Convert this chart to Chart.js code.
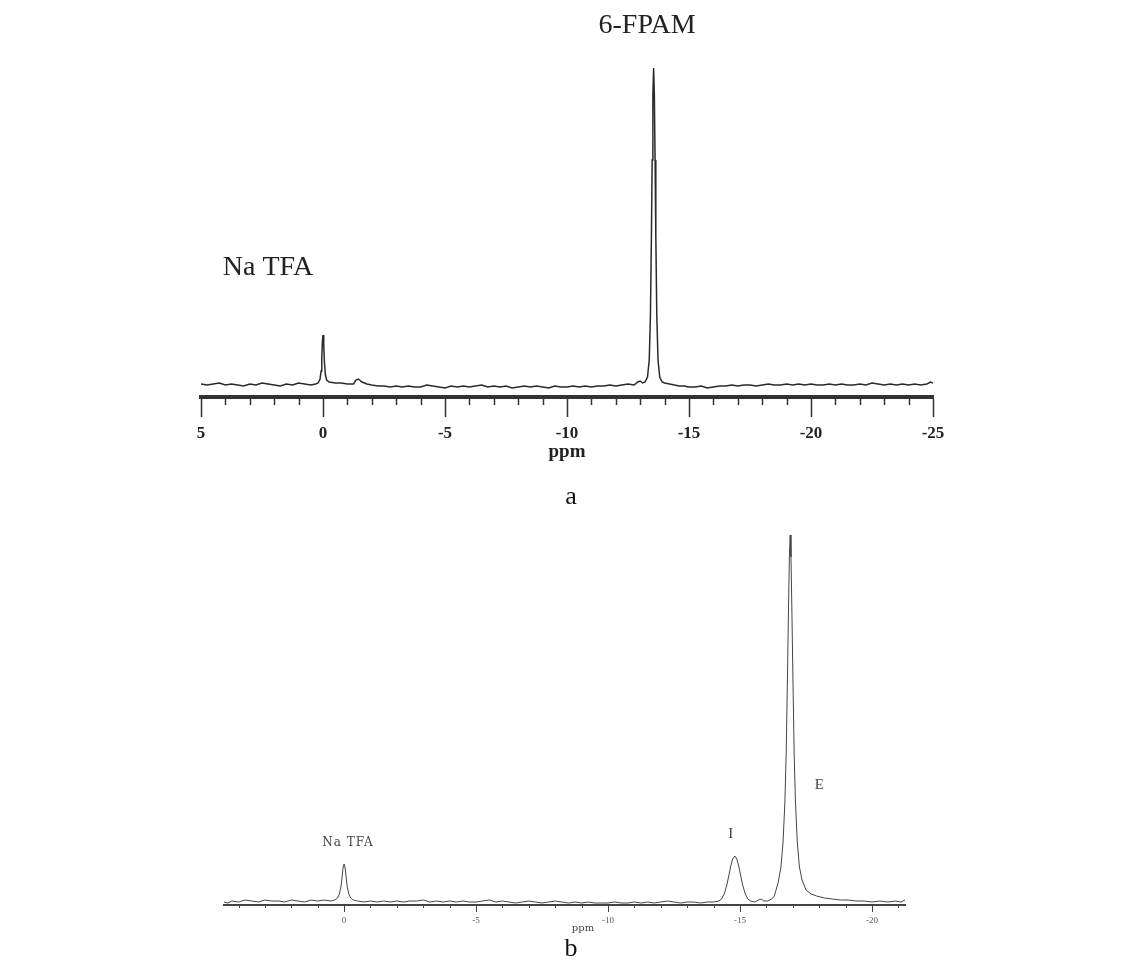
<!DOCTYPE html>
<html>
<head>
<meta charset="utf-8">
<script src="https://cdn.jsdelivr.net/npm/chart.js@4.4.1/dist/chart.umd.min.js"></script>
<style>
  body { margin: 0; background: #fff; width: 1143px; height: 967px; position: relative; overflow: hidden; }
  canvas { position: absolute; left: 0; }
  #chartA { top: 0; }
  #chartB { top: 500px; }
  .cap { position: absolute; width: 40px; text-align: center; font-family: "Liberation Serif", serif; font-size: 26px; color: #111; }
</style>
</head>
<body>
<canvas id="chartA" width="1143" height="470"></canvas>
<canvas id="chartB" width="1143" height="450"></canvas>
<div class="cap" style="left:551px; top:481px;">a</div>
<div class="cap" style="left:551px; top:933px;">b</div>
<script>
// spectrum a: [ppm, intensity]
const specA = [
  [5,1],[4.75,0],[4.5,1],[4.25,2],[4,0],[3.75,1],[3.5,0],[3.25,-1],[3,1],[2.75,0],
  [2.5,2],[2.25,1],[2,0],[1.75,-1],[1.5,1],[1.25,0],[1,2],[0.75,1],[0.5,0],[0.3,1],
  [0.2,2],[0.12,6],[0.08,14],[0.05,28],[0.02,45],[0,50],[-0.03,40],[-0.06,22],[-0.1,10],[-0.15,5],
  [-0.25,3],[-0.5,2],[-0.75,2],[-1,1],[-1.25,1],[-1.35,5],[-1.45,6],[-1.6,3],[-1.8,1],[-2,0],
  [-2.25,-1],[-2.5,-1],[-2.75,-2],[-3,-1],[-3.25,-2],[-3.5,-1],[-3.75,-2],[-4,-2],[-4.25,0],[-4.5,-1],
  [-4.75,-2],[-5,-3],[-5.25,-1],[-5.5,-2],[-5.75,-1],[-6,-2],[-6.25,-1],[-6.5,0],[-6.75,-2],[-7,-1],
  [-7.25,-2],[-7.5,-1],[-7.75,-3],[-8,-2],[-8.25,-1],[-8.5,-2],[-8.75,-1],[-9,-2],[-9.25,-3],[-9.5,-1],
  [-9.75,-2],[-10,-2],[-10.25,-1],[-10.5,-2],[-10.75,-1],[-11,-2],[-11.25,-1],[-11.5,-1],[-11.75,0],[-12,-1],
  [-12.25,0],[-12.5,1],[-12.75,0],[-12.9,3],[-13,4],[-13.1,2],[-13.2,3],[-13.3,8],[-13.37,25],[-13.42,70],
  [-13.46,150],[-13.49,225],[-13.52,290],[-13.55,317],[-13.58,290],[-13.61,225],[-13.64,150],[-13.68,70],[-13.73,25],[-13.8,8],
  [-13.9,3],[-14,2],[-14.2,1],[-14.4,0],[-14.6,-1],[-14.8,-1],[-15,-2],[-15.25,-2],[-15.5,-1],[-15.75,-3],[-16,-2],[-16.25,-1],
  [-16.5,-1],[-16.75,0],[-17,-1],[-17.25,0],[-17.5,0],[-17.75,-1],[-18,0],[-18.25,1],[-18.5,0],[-18.75,0],
  [-19,1],[-19.25,0],[-19.5,1],[-19.75,0],[-20,1],[-20.25,0],[-20.5,0],[-20.75,1],[-21,0],[-21.25,1],
  [-21.5,0],[-21.75,0],[-22,1],[-22.25,0],[-22.5,2],[-22.75,1],[-23,0],[-23.25,1],[-23.5,0],[-23.75,1],
  [-24,0],[-24.25,1],[-24.5,0],[-24.75,1],[-24.9,3],[-25,2]
];
// spectrum b: [ppm, intensity]
const specB = [
  [4.55,0],[4.4,-1],[4.25,1],[4,0],[3.75,2],[3.5,1],[3.25,0],[3,2],[2.75,1],[2.5,1],
  [2.25,0],[2,2],[1.75,1],[1.5,0],[1.25,2],[1,1],[0.75,2],[0.5,1],[0.35,2],[0.25,4],
  [0.18,8],[0.12,15],[0.08,24],[0.04,34],[0,38],[-0.04,34],[-0.08,24],[-0.12,15],[-0.18,8],[-0.25,4],
  [-0.35,2],[-0.5,1],[-0.75,0],[-1,1],[-1.25,0],[-1.5,1],[-1.75,0],[-2,1],[-2.25,0],[-2.5,1],
  [-2.75,1],[-3,2],[-3.25,0],[-3.5,1],[-3.75,0],[-4,1],[-4.25,0],[-4.5,1],[-4.75,0],[-5,0],
  [-5.25,1],[-5.5,2],[-5.75,0],[-6,1],[-6.25,0],[-6.5,-1],[-6.75,0],[-7,1],[-7.25,0],[-7.5,-1],
  [-7.75,0],[-8,1],[-8.25,0],[-8.5,-1],[-8.75,0],[-9,-1],[-9.25,0],[-9.5,-1],[-9.75,-1],[-10,-1],
  [-10.25,0],[-10.5,-1],[-10.75,-1],[-11,0],[-11.25,-1],[-11.5,0],[-11.75,-1],[-12,0],[-12.25,1],[-12.5,0],
  [-12.75,-1],[-13,0],[-13.25,0],[-13.5,-1],[-13.75,0],[-14,0],[-14.2,1],[-14.3,3],[-14.4,8],[-14.5,17],
  [-14.58,27],[-14.65,36],[-14.72,43],[-14.8,46],[-14.88,43],[-14.95,36],[-15.02,27],[-15.1,17],[-15.2,8],[-15.3,3],
  [-15.4,1],[-15.55,0],[-15.7,2],[-15.8,3],[-15.9,1],[-16.05,1],[-16.2,3],[-16.3,6],[-16.45,20],[-16.55,35],
  [-16.63,60],[-16.7,100],[-16.75,150],[-16.8,230],[-16.84,300],[-16.87,345],[-16.9,367],[-16.93,345],[-16.96,300],[-17,230],
  [-17.05,150],[-17.1,100],[-17.17,60],[-17.25,35],[-17.35,22],[-17.5,12],[-17.7,8],[-17.9,6],[-18.2,4],[-18.5,3],
  [-18.8,2],[-19.1,2],[-19.4,1],[-19.7,1],[-20,0],[-20.3,1],[-20.6,0],[-20.9,1],[-21.1,0],[-21.25,2]
];

const rangeA = [-25, 5];
const rangeB = [-21.25, 4.55];
const tickLabelsA = [5, 0, -5, -10, -15, -20, -25];
const tickLabelsB = [0, -5, -10, -15, -20];

// labels over the peaks (ppm position of label centre)
const peakNamesA = ["Na TFA", "6-FPAM"];
const peakPosA = [2.25, -13.28];
const peakNamesB = ["Na TFA", "I", "E"];
const peakPosB = [-0.15, -14.65, -18.0];

const extras = {
  id: "extras",
  afterDraw(chart, args, o) {
    const c = chart.ctx, xs = chart.scales.x, area = chart.chartArea;
    c.save();
    c.strokeStyle = o.tickColor;
    c.lineWidth = o.tickWidth;
    for (let v = Math.ceil(xs.min); v <= Math.floor(xs.max); v++) {
      if (o.majors.includes(v)) continue;
      const px = Math.round(xs.getPixelForValue(v)) + 0.5;
      c.beginPath();
      c.moveTo(px, area.bottom);
      c.lineTo(px, area.bottom + o.minorLen);
      c.stroke();
    }
    c.fillStyle = o.textColor;
    c.textAlign = "center";
    c.textBaseline = "middle";
    o.labels.forEach(l => {
      c.font = l.font;
      c.letterSpacing = l.spacing || "0px";
      c.fillText(l.text, xs.getPixelForValue(l.ppm), l.y);
    });
    c.restore();
  }
};

function makeChart(id, spec, range, majors, s) {
  return new Chart(document.getElementById(id), {
    type: "line",
    data: {
      datasets: [{
        data: spec.map(p => ({ x: p[0], y: p[1] })),
        borderColor: s.lineColor,
        borderWidth: s.lineWidth,
        pointRadius: 0,
        tension: 0
      }]
    },
    options: {
      responsive: false,
      animation: false,
      devicePixelRatio: 1,
      layout: { padding: s.padding },
      plugins: { legend: { display: false }, tooltip: { enabled: false }, extras: s.extras },
      scales: {
        x: {
          type: "linear",
          reverse: true,
          min: range[0],
          max: range[1],
          afterFit: sc => { sc.height = s.axisHeight; },
          border: { display: true, color: s.axisColor, width: s.axisWidth },
          grid: {
            drawOnChartArea: false,
            tickLength: s.majorLen,
            tickWidth: s.tickWidth,
            tickColor: ctx => (ctx.tick && majors.includes(ctx.tick.value)) ? s.axisColor : "rgba(0,0,0,0)"
          },
          ticks: {
            stepSize: 1,
            includeBounds: false,
            autoSkip: false,
            maxRotation: 0,
            padding: s.labelPad,
            color: s.tickTextColor,
            font: s.tickFont,
            callback: v => majors.includes(v) ? String(v) : ""
          },
          title: s.title
        },
        y: { display: false, min: s.yRange[0], max: s.yRange[1] }
      }
    },
    plugins: [extras]
  });
}

makeChart("chartA", specA, rangeA, tickLabelsA, {
  lineColor: "#2a2a2a", lineWidth: 1.5,
  padding: { left: 201, right: 210, top: 60, bottom: 7 },
  axisHeight: 66, axisColor: "#333", axisWidth: 4, majorLen: 20, tickWidth: 1.5, labelPad: 6,
  tickTextColor: "#222", tickFont: { family: "Liberation Serif", size: 17, weight: "bold" },
  title: { display: true, text: "ppm", color: "#222", font: { family: "Liberation Serif", size: 19, weight: "bold" }, padding: 0 },
  yRange: [-12, 325],
  extras: {
    majors: tickLabelsA, minorLen: 8, tickColor: "#333", tickWidth: 1.5, textColor: "#222",
    labels: [
      { text: peakNamesA[0], ppm: peakPosA[0], y: 268, font: "28px 'Liberation Serif'" },
      { text: peakNamesA[1], ppm: peakPosA[1], y: 26, font: "28px 'Liberation Serif'" }
    ]
  }
});

makeChart("chartB", specB, rangeB, tickLabelsB, {
  lineColor: "#444", lineWidth: 1,
  padding: { left: 224, right: 238, top: 10, bottom: 10 },
  axisHeight: 35, axisColor: "#444", axisWidth: 2, majorLen: 7, tickWidth: 1, labelPad: 3,
  tickTextColor: "#555", tickFont: { family: "Liberation Serif", size: 9 },
  title: { display: false },
  yRange: [-3, 392],
  extras: {
    majors: tickLabelsB, minorLen: 3, tickColor: "#444", tickWidth: 1, textColor: "#444",
    labels: [
      { text: peakNamesB[0], ppm: peakPosB[0], y: 343, font: "12px 'DejaVu Serif'", spacing: "1px" },
      { text: peakNamesB[1], ppm: peakPosB[1], y: 334, font: "15px 'Liberation Serif'" },
      { text: peakNamesB[2], ppm: peakPosB[2], y: 285, font: "15px 'Liberation Serif'" },
      { text: "ppm", ppm: -9.05, y: 428, font: "10px 'DejaVu Serif'" }
    ]
  }
});
</script>
</body>
</html>
